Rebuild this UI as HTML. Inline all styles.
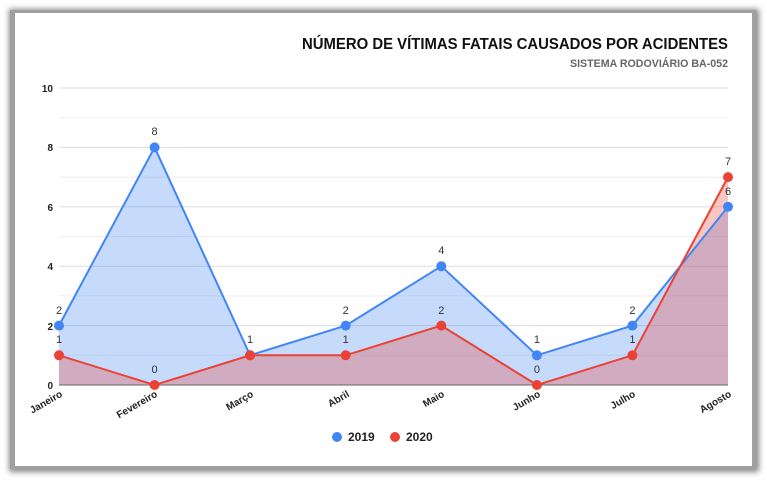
<!DOCTYPE html><html><head><meta charset="utf-8"><style>
body{margin:0;background:#fff;width:767px;height:479px;overflow:hidden}
</style></head><body>
<svg width="767" height="479" xmlns="http://www.w3.org/2000/svg" font-family="Liberation Sans, Arial, sans-serif">
<defs><filter id="s" x="-5%" y="-5%" width="110%" height="110%"><feGaussianBlur stdDeviation="3"/></filter></defs>
<rect x="9" y="9" width="750" height="463" fill="#888" filter="url(#s)"/>
<rect x="10" y="10" width="746" height="459" fill="#a0a0a0"/>
<rect x="15" y="13" width="737" height="453" fill="#fff"/>
<text x="728" y="49" text-anchor="end" font-size="16" font-weight="bold" fill="#111" textLength="426" lengthAdjust="spacingAndGlyphs">NÚMERO DE VÍTIMAS FATAIS CAUSADOS POR ACIDENTES</text>
<text x="728" y="67" text-anchor="end" font-size="11" font-weight="bold" fill="#666" textLength="158" lengthAdjust="spacingAndGlyphs">SISTEMA RODOVIÁRIO BA-052</text>
<g stroke="#e3e3e3" stroke-width="1">
<line x1="59" x2="728" y1="88" y2="88" stroke="#ddd"/><line x1="59" x2="728" y1="117.7" y2="117.7" stroke="#eee"/>
<line x1="59" x2="728" y1="147.4" y2="147.4" stroke="#ddd"/><line x1="59" x2="728" y1="177.1" y2="177.1" stroke="#eee"/>
<line x1="59" x2="728" y1="206.8" y2="206.8" stroke="#ddd"/><line x1="59" x2="728" y1="236.5" y2="236.5" stroke="#eee"/>
<line x1="59" x2="728" y1="266.2" y2="266.2" stroke="#ddd"/><line x1="59" x2="728" y1="295.9" y2="295.9" stroke="#eee"/>
<line x1="59" x2="728" y1="325.6" y2="325.6" stroke="#ddd"/><line x1="59" x2="728" y1="355.3" y2="355.3" stroke="#eee"/>
</g>
<g font-size="10" font-weight="bold" fill="#222" text-anchor="end">
<text x="53" y="92">10</text><text x="53" y="151">8</text><text x="53" y="211">6</text><text x="53" y="270">4</text><text x="53" y="330">2</text><text x="53" y="389">0</text>
</g>
<polygon points="59,385 59,325.6 154.6,147.4 250.1,355.3 345.7,325.6 441.3,266.2 536.9,355.3 632.4,325.6 728,206.8 728,385" fill="#4285f4" fill-opacity="0.3"/>
<polygon points="59,385 59,355.3 154.6,385 250.1,355.3 345.7,355.3 441.3,325.6 536.9,385 632.4,355.3 728,177.1 728,385" fill="#ea4335" fill-opacity="0.3"/>
<line x1="59" x2="728" y1="385" y2="385" stroke="#666"/>
<polyline points="59,325.6 154.6,147.4 250.1,355.3 345.7,325.6 441.3,266.2 536.9,355.3 632.4,325.6 728,206.8" fill="none" stroke="#4285f4" stroke-width="2"/>
<polyline points="59,355.3 154.6,385 250.1,355.3 345.7,355.3 441.3,325.6 536.9,385 632.4,355.3 728,177.1" fill="none" stroke="#ea4335" stroke-width="2"/>
<g fill="#4285f4"><circle cx="59" cy="325.6" r="5"/><circle cx="154.6" cy="147.4" r="5"/><circle cx="250.1" cy="355.3" r="5"/><circle cx="345.7" cy="325.6" r="5"/><circle cx="441.3" cy="266.2" r="5"/><circle cx="536.9" cy="355.3" r="5"/><circle cx="632.4" cy="325.6" r="5"/><circle cx="728" cy="206.8" r="5"/></g>
<g fill="#ea4335"><circle cx="59" cy="355.3" r="5"/><circle cx="154.6" cy="385" r="5"/><circle cx="250.1" cy="355.3" r="5"/><circle cx="345.7" cy="355.3" r="5"/><circle cx="441.3" cy="325.6" r="5"/><circle cx="536.9" cy="385" r="5"/><circle cx="632.4" cy="355.3" r="5"/><circle cx="728" cy="177.1" r="5"/></g>
<g font-size="11" fill="#333" text-anchor="middle">
<text x="59" y="314">2</text><text x="154.6" y="135">8</text><text x="250.1" y="343">1</text><text x="345.7" y="314">2</text><text x="441.3" y="254">4</text><text x="536.9" y="343">1</text><text x="632.4" y="314">2</text><text x="728" y="195">6</text>
<text x="59" y="343">1</text><text x="154.6" y="373">0</text><text x="345.7" y="343">1</text><text x="441.3" y="314">2</text><text x="536.9" y="373">0</text><text x="632.4" y="343">1</text><text x="728" y="165">7</text>
</g>
<g font-size="10" font-weight="bold" fill="#222" text-anchor="end">
<text transform="translate(63,396) rotate(-30)">Janeiro</text>
<text transform="translate(158,396) rotate(-30)">Fevereiro</text>
<text transform="translate(254,396) rotate(-30)">Março</text>
<text transform="translate(350,396) rotate(-30)">Abril</text>
<text transform="translate(445,396) rotate(-30)">Maio</text>
<text transform="translate(541,396) rotate(-30)">Junho</text>
<text transform="translate(636,396) rotate(-30)">Julho</text>
<text transform="translate(732,396) rotate(-30)">Agosto</text>
</g>
<circle cx="337" cy="437" r="5" fill="#4285f4"/><text x="348" y="441" font-size="12" font-weight="bold" fill="#222">2019</text>
<circle cx="395" cy="437" r="5" fill="#ea4335"/><text x="406" y="441" font-size="12" font-weight="bold" fill="#222">2020</text>
</svg>
</body></html>
